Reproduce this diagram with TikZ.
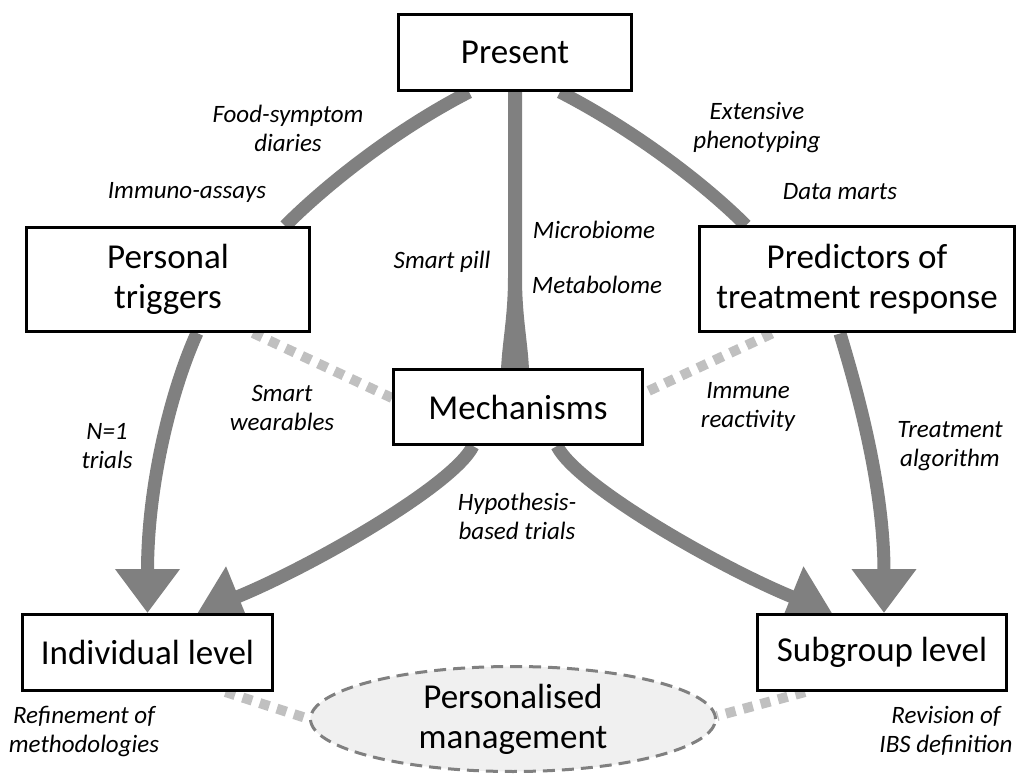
\documentclass[tikz,border=0pt]{standalone}
\usepackage{fontspec}
\setmainfont{Carlito}
\usetikzlibrary{arrows.meta,calc,shapes.geometric}
\pgfdeclarelayer{bg}
\pgfsetlayers{bg,main}
\definecolor{linkgray}{HTML}{808080}
\definecolor{dotgray}{HTML}{C0C0C0}
\definecolor{ellfill}{HTML}{F0F0F0}
\begin{document}
\begin{tikzpicture}[x=1pt,y=-1pt,
  box/.style={draw=black,line width=3pt,fill=white,align=center,font=\fontsize{35}{40}\selectfont,inner sep=0pt},
  lbl/.style={align=center,font=\itshape\fontsize{25}{29}\selectfont,inner sep=0pt},
  flow/.style={draw=linkgray,line width=13pt},
  flowarrow/.style={flow,-{Triangle[width=62pt,length=44pt]}},
  dotlink/.style={draw=dotgray,line width=10pt,dash pattern=on 10pt off 8pt},
]
\useasboundingbox (0,0) rectangle (1018,775);

\node[box,minimum width=233pt,minimum height=76pt] (present) at (515,52.5) {Present};
\node[box,minimum width=283pt,minimum height=104pt] (personal) at (168,279.5) {Personal\\triggers};
\node[box,minimum width=315pt,minimum height=105pt] (predict) at (857,279.5) {Predictors of\\treatment response};
\node[box,minimum width=249pt,minimum height=75pt] (mech) at (518,407) {Mechanisms};
\node[box,minimum width=250pt,minimum height=76pt] (indiv) at (147.5,652.5) {Individual level};
\node[box,minimum width=249pt,minimum height=76pt] (subgr) at (882,652.5) {Subgroup level};
\node[ellipse,draw=linkgray,line width=3pt,dash pattern=on 12pt off 7pt,fill=ellfill,
      minimum width=405pt,minimum height=105pt,align=center,inner sep=0pt,
      font=\fontsize{35}{40}\selectfont] (pm) at (513,719) {Personalised\\management};

\begin{pgfonlayer}{bg}
\fill[white] (0,0) rectangle (1018,775);
\draw[flow] ($(present.south)+(-46,0)$) .. controls +(-70,36) and +(45,-45) .. ($(personal.north)+(117,0)$);
\draw[flow] ($(present.south)+(45,0)$) .. controls +(70,36) and +(-45,-45) .. ($(predict.north)+(-111,0)$);
\fill[linkgray] ($(present.south)+(-7,-2)$) -- ($(present.south)+(7,-2)$) -- ($(present.south)+(7,185)$)
   .. controls ($(present.south)+(7,225)$) and ($(mech.north)+(10,-25)$) .. ($(mech.north)+(11,2)$)
   -- ($(mech.north)+(-17,2)$)
   .. controls ($(mech.north)+(-16,-25)$) and ($(present.south)+(-7,225)$) .. ($(present.south)+(-7,185)$) -- cycle;
\draw[flowarrow] ($(personal.south)+(29,0)$) .. controls +(-25,55) and +(0,-130) .. (indiv.north);
\draw[flowarrow] ($(mech.south)+(-45,0)$) .. controls +(-20,40) and +(111,-45) .. ($(indiv.north)+(50,0)$);
\draw[flowarrow] ($(mech.south)+(39,0)$) .. controls +(20,40) and +(-111,-45) .. ($(subgr.north)+(-50,0)$);
\draw[flowarrow] ($(predict.south)+(-17,0)$) .. controls +(15,50) and +(0,-130) .. ($(subgr.north)+(2,0)$);
\draw[dotlink] ($(personal.south)+(85,0)$) -- ($(mech.west)+(0,-9)$);
\draw[dotlink] ($(predict.south)+(-85,0)$) -- ($(mech.east)+(0,-14)$);
\draw[dotlink] ($(indiv.south)+(78,0)$) -- (pm.west);
\draw[dotlink] ($(subgr.south)+(-77,0)$) -- ($(pm.east)+(0,-3)$);
\end{pgfonlayer}

\node[lbl] (l1) at (288,128) {Food-symptom\\diaries};
\node[lbl] (l2) at (187,192) {Immuno-assays};
\node[lbl] (l3) at (442,262) {Smart pill};
\node[lbl] (l4) at (594,230) {Microbiome};
\node[lbl] (l5) at (597,285) {Metabolome};
\node[lbl] (l6) at (757,128) {Extensive\\phenotyping};
\node[lbl] (l7) at (840,192) {Data marts};
\node[lbl] (l8) at (282,408) {Smart\\wearables};
\node[lbl] (l9) at (107,446) {N=1\\trials};
\node[lbl] (l10) at (517,516) {Hypothesis-\\based trials};
\node[lbl] (l11) at (748,407) {Immune\\reactivity};
\node[lbl] (l12) at (950,446) {Treatment\\algorithm};
\node[lbl] (l13) at (84,731) {Refinement of\\methodologies};
\node[lbl] (l14) at (946,731) {Revision of\\IBS definition};
\end{tikzpicture}
\end{document}
